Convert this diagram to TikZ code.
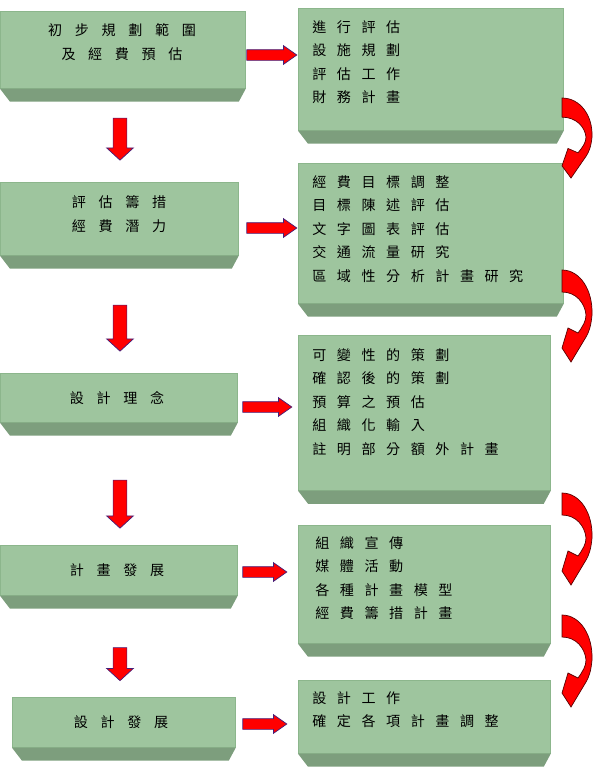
\documentclass[tikz,border=0pt]{standalone}
\usepackage{fontspec}
\newfontfamily\cjklist[LetterSpace=75]{Noto Sans CJK TC}
\newfontfamily\cjkstep[LetterSpace=90]{Noto Sans CJK TC}
\usetikzlibrary{shapes.arrows}

\definecolor{facegreen}{RGB}{158,197,158}
\definecolor{faceedge}{RGB}{140,182,140}
\definecolor{bevelgreen}{RGB}{125,158,125}
\definecolor{arrowedge}{RGB}{70,30,120}
\definecolor{bendedge}{RGB}{90,0,0}

\tikzset{
  face/.style={draw=faceedge, fill=facegreen, inner sep=0pt, anchor=north west},
  steptext/.style={font=\cjkstep\fontsize{10pt}{17.5pt}\selectfont, inner sep=0pt, align=center},
  listtext/.style={font=\cjklist\fontsize{10pt}{16.7pt}\selectfont, inner sep=0pt, align=left, anchor=north west},
  harrow/.style={single arrow, draw=arrowedge, fill=red, inner sep=0.125cm,
    single arrow head extend=0.1cm, single arrow tip angle=70},
  varrow/.style={single arrow, draw=arrowedge, fill=red, inner sep=0.1625cm,
    single arrow head extend=0.1625cm, single arrow tip angle=95,
    shape border rotate=270},
  bendarrow/.pic={
    \begin{scope}[yscale=#1]
      \filldraw[fill=red, draw=bendedge] (0,0) .. controls (18,0) and (31,20) .. (30,45)
        .. controls (29,56) and (27,62) .. (24,67) -- (9,92) -- (0,78) -- (6,58) -- (16,63)
        .. controls (21,56) and (24,51) .. (24,45) .. controls (23,33) and (14,22) .. (0,22) -- cycle;
    \end{scope}
  }
}

\begin{document}
\begin{tikzpicture}[x=0.025cm, y=-0.025cm, line width=0.5pt]
  \useasboundingbox (0,0) rectangle (596,784);

  % left column: steps
  \node[face, minimum width=6.125cm, minimum height=1.925cm] (L1) at (0,11) {};
  \node[face, minimum width=5.95cm,  minimum height=1.825cm] (L2) at (0,182) {};
  \node[face, minimum width=5.925cm, minimum height=1.225cm] (L3) at (0,373) {};
  \node[face, minimum width=5.925cm, minimum height=1.25cm]  (L4) at (0,545) {};
  \node[face, minimum width=5.575cm, minimum height=1.25cm]  (L5) at (12,697) {};

  % right column: tasks
  \node[face, minimum width=6.625cm, minimum height=3.05cm]  (R1) at (298,8) {};
  \node[face, minimum width=6.625cm, minimum height=3.5cm]   (R2) at (298,163) {};
  \node[face, minimum width=6.3cm,   minimum height=3.875cm] (R3) at (298,335) {};
  \node[face, minimum width=6.3cm,   minimum height=2.95cm]  (R4) at (298,525) {};
  \node[face, minimum width=6.3cm,   minimum height=1.825cm] (R5) at (298,680) {};

  % bevelled lower faces
  \foreach \b in {L1,L2,L3,L4,L5,R1,R2,R3,R4,R5}
    \fill[bevelgreen] (\b.south west) -- (\b.south east) -- ([shift={(-7,13)}]\b.south east)
      -- ([shift={(10,13)}]\b.south west) -- cycle;

  \node[steptext] (L1t) at (122,42) {初步規劃範圍\\及經費預估};
  \node[steptext] (L2t) at (119,214) {評估籌措\\經費潛力};
  \node[steptext] (L3t) at (117,398) {設計理念};
  \node[steptext] (L4t) at (117,570) {計畫發展};
  \node[steptext] (L5t) at (121,722) {設計發展};

  \node[listtext] (R1t) at ([shift={(14,12)}]R1.north west) {進行評估\\設施規劃\\評估工作\\財務計畫};
  \node[listtext] (R2t) at ([shift={(14,12)}]R2.north west) {經費目標調整\\目標陳述評估\\文字圖表評估\\交通流量研究\\區域性分析計畫研究};
  \node[listtext] (R3t) at ([shift={(14,13)}]R3.north west) {可變性的策劃\\確認後的策劃\\預算之預估\\組織化輸入\\註明部分額外計畫};
  \node[listtext] (R4t) at ([shift={(17,11)}]R4.north west) {組織宣傳\\媒體活動\\各種計畫模型\\經費籌措計畫};
  \node[listtext] (R5t) at ([shift={(14,11)}]R5.north west) {設計工作\\確定各項計畫調整};

  % block arrows, step to task
  \node[harrow, minimum height=1.25cm]  (A1) at (268,55) {};
  \node[harrow, minimum height=1.25cm]  (A2) at (268,228) {};
  \node[harrow, minimum height=1.225cm] (A3) at (263.5,407) {};
  \node[harrow, minimum height=1.1cm]   (A4) at (261,572) {};
  \node[harrow, minimum height=1.1cm]   (A5) at (261,724) {};

  % block arrows, step to step
  \node[varrow, minimum height=1.05cm]  (D1) at (120,136) {};
  \node[varrow, minimum height=1.15cm]  (D2) at (120,325) {};
  \node[varrow, minimum height=1.2cm]   (D3) at (120,501) {};
  \node[varrow, minimum height=0.825cm] (D4) at (120,661) {};

  % curved arrows, task to task
  \pic at (562,98)  {bendarrow=0.87};
  \pic at (562,270) {bendarrow=1};
  \pic at (562,493) {bendarrow=1};
  \pic at (562,615) {bendarrow=1};
\end{tikzpicture}
\end{document}
